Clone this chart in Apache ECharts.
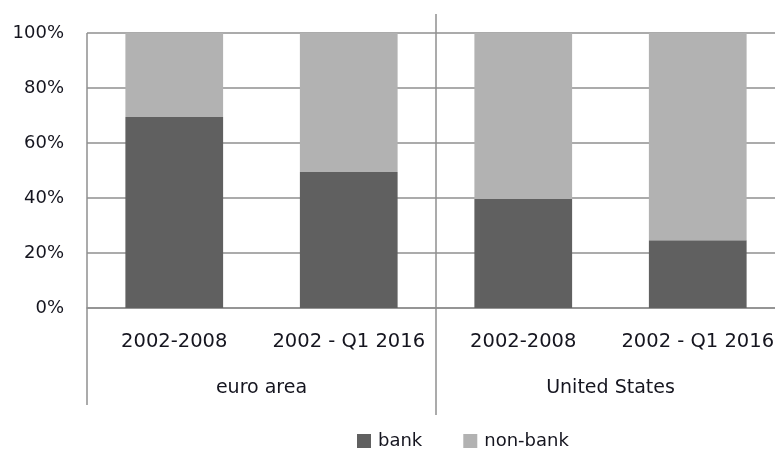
<!DOCTYPE html>
<html>
<head>
<meta charset="utf-8">
<script src="https://cdn.jsdelivr.net/npm/echarts@6/dist/echarts.min.js"></script>
<style>html,body{margin:0;padding:0;background:#fff}#c{width:775px;height:450px}</style>
</head>
<body>
<div id="c"></div>
<script>
const categories = ['2002-2008', '2002 - Q1 2016', '2002-2008', '2002 - Q1 2016'];
const groups = ['euro area', 'United States'];
const bank = [69.5, 49.5, 39.6, 24.6];
const nonBank = [30.5, 50.5, 60.4, 75.4];
const yTicks = [0, 20, 40, 60, 80, 100];

const FONT = 'DejaVu Sans';
const TXT = '#15151f';
const LINE = '#8f8f8f';

const chart = echarts.init(document.getElementById('c'), null, {renderer: 'canvas'});
const option = {
  animation: false,
  backgroundColor: '#fff',
  textStyle: {fontFamily: FONT},
  grid: {left: 87, top: 33, width: 698, height: 275, containLabel: false, outerBoundsMode: 'none'},
  legend: {
    left: 352, top: 427,
    itemWidth: 14, itemHeight: 14, itemGap: 41,
    icon: 'rect',
    textStyle: {fontFamily: FONT, fontSize: 18, color: TXT, padding: [0, 0, 0, 2]},
    data: ['bank', 'non-bank']
  },
  xAxis: [
    {
      type: 'category', data: categories, position: 'bottom',
      axisLine: {show: true, lineStyle: {color: LINE, width: 1.5}},
      axisTick: {show: false},
      axisLabel: {fontFamily: FONT, fontSize: 19.5, color: TXT, margin: 24, interval: 0}
    },
    {
      type: 'category', data: groups, position: 'bottom', gridIndex: 0,
      axisLine: {show: false}, axisTick: {show: false},
      axisLabel: {fontFamily: FONT, fontSize: 19, color: TXT, margin: 71, interval: 0}
    }
  ],
  yAxis: {
    type: 'value', min: yTicks[0], max: yTicks[yTicks.length - 1], interval: 20,
    axisLine: {show: false}, axisTick: {show: false},
    splitLine: {show: true, lineStyle: {color: LINE, width: 1.5}},
    axisLabel: {fontFamily: FONT, fontSize: 18, color: TXT, margin: 23, formatter: '{value}%'}
  },
  series: [
    {name: 'bank', type: 'bar', stack: 's', data: bank, barWidth: '56%',
     itemStyle: {color: '#606060'}},
    {name: 'non-bank', type: 'bar', stack: 's', data: nonBank, barWidth: '56%',
     itemStyle: {color: '#b2b2b2'}}
  ]
};
chart.setOption(option);

// decorative separator lines derived from axis positions
const p1 = chart.convertToPixel({xAxisIndex: 0}, 1);
const p2 = chart.convertToPixel({xAxisIndex: 0}, 2);
const step = p2 - p1;
const leftX = p1 - step * 1.5;
const divX = (p1 + p2) / 2;
const topY = chart.convertToPixel({yAxisIndex: 0}, 100);
chart.setOption({
  graphic: [
    {type: 'line', shape: {x1: leftX, y1: topY, x2: leftX, y2: 405}, style: {stroke: LINE, lineWidth: 1.5}, z: 10},
    {type: 'line', shape: {x1: divX, y1: 14, x2: divX, y2: 415}, style: {stroke: LINE, lineWidth: 1.5}, z: 10}
  ]
});
</script>
</body>
</html>
